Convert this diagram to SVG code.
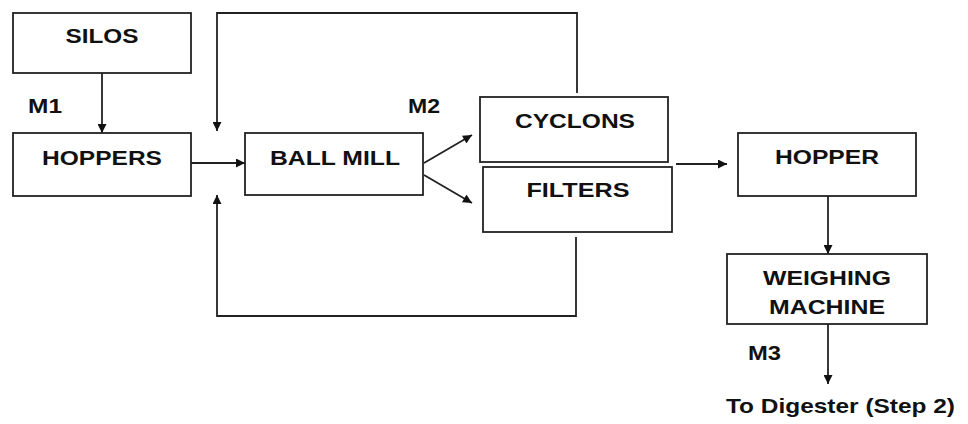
<svg xmlns="http://www.w3.org/2000/svg" width="968" height="424" viewBox="0 0 968 424">
<style>
.box{fill:#fff;stroke:#222;stroke-width:1.8}
.ln{fill:none;stroke:#222;stroke-width:1.8}
.t{font-family:"Liberation Sans",Arial,sans-serif;font-weight:bold;font-size:21px;fill:#111;text-anchor:middle}
.l{font-family:"Liberation Sans",Arial,sans-serif;font-weight:bold;font-size:21px;fill:#111}
</style>
<defs>
<marker id="ah" viewBox="0 0 10 10" refX="10" refY="5" markerWidth="10" markerHeight="9" markerUnits="userSpaceOnUse" orient="auto">
<path d="M0,0 L10,5 L0,10 z" fill="#111"/>
</marker>
</defs>
<rect width="968" height="424" fill="#fff"/>
<g id="connectors">
<line class="ln" x1="102" y1="73" x2="102" y2="133" marker-end="url(#ah)"/>
<line class="ln" x1="191" y1="163" x2="245" y2="163" marker-end="url(#ah)"/>
<polyline class="ln" points="577,93 577,13 217,13 217,131" marker-end="url(#ah)"/>
<polyline class="ln" points="576,237 576,316 217,316 217,195" marker-end="url(#ah)"/>
<line class="ln" x1="424" y1="163" x2="472" y2="135" marker-end="url(#ah)"/>
<line class="ln" x1="424" y1="175" x2="472" y2="203" marker-end="url(#ah)"/>
<line class="ln" x1="676" y1="164" x2="727" y2="164" marker-end="url(#ah)"/>
<line class="ln" x1="828" y1="196" x2="828" y2="254" marker-end="url(#ah)"/>
<line class="ln" x1="828" y1="324" x2="828" y2="384" marker-end="url(#ah)"/>
</g>
<g id="silos"><rect class="box" x="13" y="13" width="178" height="60"/><text class="t" x="102" y="43" textLength="73" lengthAdjust="spacingAndGlyphs">SILOS</text></g>
<g id="hoppers"><rect class="box" x="13" y="133" width="178" height="63"/><text class="t" x="102" y="165" textLength="120" lengthAdjust="spacingAndGlyphs">HOPPERS</text></g>
<g id="ballmill"><rect class="box" x="245" y="133" width="178" height="62"/><text class="t" x="335" y="165" textLength="130" lengthAdjust="spacingAndGlyphs">BALL MILL</text></g>
<g id="cyclons"><rect class="box" x="480" y="97" width="188" height="65"/><text class="t" x="575" y="128" textLength="120" lengthAdjust="spacingAndGlyphs">CYCLONS</text></g>
<g id="filters"><rect class="box" x="483" y="167" width="189" height="65"/><text class="t" x="578" y="197" textLength="103" lengthAdjust="spacingAndGlyphs">FILTERS</text></g>
<g id="hopper"><rect class="box" x="738" y="133" width="178" height="63"/><text class="t" x="827" y="164" textLength="104" lengthAdjust="spacingAndGlyphs">HOPPER</text></g>
<g id="weighing"><rect class="box" x="727" y="254" width="200" height="70"/><text class="t" x="827" y="285" textLength="128" lengthAdjust="spacingAndGlyphs">WEIGHING</text><text class="t" x="827" y="314" textLength="116" lengthAdjust="spacingAndGlyphs">MACHINE</text></g>
<g id="labels">
<text class="l" x="28" y="113" textLength="34" lengthAdjust="spacingAndGlyphs">M1</text>
<text class="l" x="408" y="113" textLength="32" lengthAdjust="spacingAndGlyphs">M2</text>
<text class="l" x="748" y="360" textLength="33" lengthAdjust="spacingAndGlyphs">M3</text>
<text class="l" x="726" y="413" textLength="229" lengthAdjust="spacingAndGlyphs">To Digester (Step 2)</text>
</g>
</svg>
